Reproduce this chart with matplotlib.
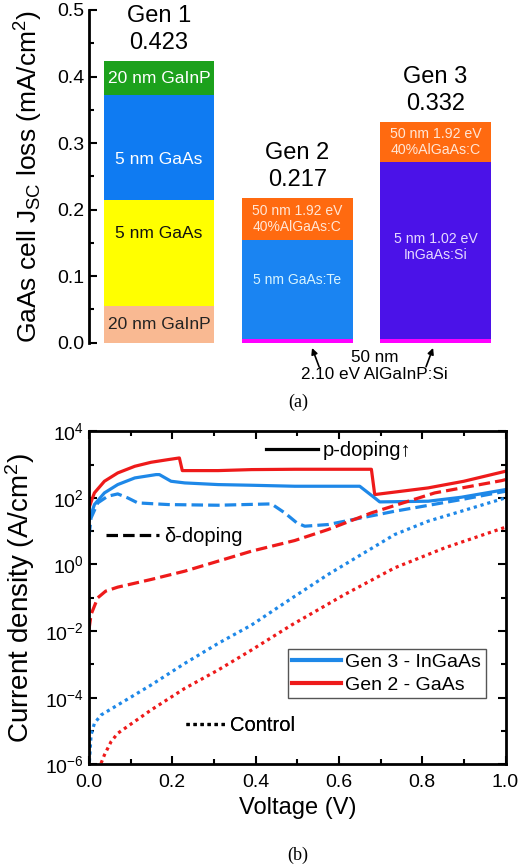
import numpy as np
import matplotlib
matplotlib.use('Agg')
import matplotlib.pyplot as plt
from matplotlib.lines import Line2D
from matplotlib.ticker import FixedLocator, NullFormatter, FormatStrFormatter

plt.rcParams['font.family'] = ['Liberation Sans', 'DejaVu Sans']
plt.rcParams['mathtext.default'] = 'regular'

# ---- (a) stacked bars: Jsc loss per layer ----
gen_names = ['Gen 1', 'Gen 2', 'Gen 3']
gen_totals = [0.423, 0.217, 0.332]

gen1_heights = [0.055, 0.160, 0.157, 0.051]
gen1_labels = ['20 nm GaInP', '5 nm GaAs', '5 nm GaAs', '20 nm GaInP']
gen1_colors = ['#F9B992', '#FFFF00', '#0F7BF2', '#1CA11C']
gen1_text = ['#222222', '#111111', 'white', 'white']

gen2_heights = [0.005, 0.150, 0.062]
gen2_labels = ['', '5 nm GaAs:Te', '50 nm 1.92 eV\n40%AlGaAs:C']
gen2_colors = ['#FF00FF', '#1A84F2', '#FF6A10']
gen2_text = ['white', '#D8F4FF', '#FFE6D6']

gen3_heights = [0.005, 0.266, 0.061]
gen3_labels = ['', '5 nm 1.02 eV\nInGaAs:Si', '50 nm 1.92 eV\n40%AlGaAs:C']
gen3_colors = ['#FF00FF', '#4B12E8', '#FF6A10']
gen3_text = ['white', '#E6DAFF', '#FFE6D6']

# where each label sits inside its layer (fraction of the layer height)
gen1_anchor = [0.5, 0.68, 0.38, 0.5]
gen2_anchor = [0.5, 0.59, 0.5]
gen3_anchor = [0.5, 0.52, 0.5]

# ---- (b) J-V curves, voltage (V) and log10 of current density (A/cm2) ----
v_gen2_p = [0, 0.007, 0.013, 0.037, 0.069, 0.11, 0.149, 0.19, 0.217, 0.224, 0.31, 0.39,
            0.494, 0.6, 0.678, 0.686, 0.75, 0.814, 0.9, 1.0]
lj_gen2_p = [1.7, 1.95, 2.15, 2.5, 2.75, 2.95, 3.07, 3.15, 3.2, 2.82, 2.82, 2.85,
             2.86, 2.86, 2.86, 2.1, 2.2, 2.3, 2.5, 2.8]

v_gen3_p = [0, 0.005, 0.013, 0.037, 0.069, 0.11, 0.161, 0.169, 0.197, 0.23, 0.31, 0.39,
            0.494, 0.65, 0.686, 0.698, 0.814, 0.894, 1.0]
lj_gen3_p = [1.3, 1.5, 1.8, 2.15, 2.4, 2.6, 2.7, 2.7, 2.5, 2.45, 2.4, 2.38,
             2.35, 2.35, 2.0, 1.88, 1.9, 2.02, 2.25]

v_gen3_d = [0, 0.005, 0.021, 0.045, 0.069, 0.093, 0.117, 0.19, 0.31, 0.438, 0.47, 0.499,
            0.518, 0.574, 0.734, 0.894, 1.0]
lj_gen3_d = [0.85, 1.4, 1.85, 2.05, 2.12, 2.0, 1.85, 1.8, 1.78, 1.82, 1.55, 1.25,
             1.15, 1.2, 1.6, 1.95, 2.2]

v_gen2_d = [0, 0.005, 0.021, 0.04, 0.069, 0.149, 0.23, 0.31, 0.39, 0.494, 0.574, 0.678,
            0.83, 0.991, 1.0]
lj_gen2_d = [-1.95, -1.5, -1.0, -0.8, -0.68, -0.45, -0.2, 0.1, 0.4, 0.72, 1.05, 1.55,
             2.15, 2.52, 2.55]

v_gen3_c = [0.001, 0.005, 0.013, 0.029, 0.069, 0.149, 0.23, 0.31, 0.39, 0.486, 0.574,
            0.654, 0.734, 0.814, 0.894, 1.0]
lj_gen3_c = [-5.92, -5.12, -4.77, -4.52, -4.22, -3.62, -2.97, -2.37, -1.82, -1.02, -0.3,
             0.3, 0.9, 1.3, 1.6, 2.0]

v_gen2_c = [0.029, 0.037, 0.053, 0.069, 0.109, 0.149, 0.23, 0.31, 0.39, 0.486, 0.614,
            0.734, 0.854, 1.0]
lj_gen2_c = [-5.97, -5.72, -5.32, -5.07, -4.72, -4.37, -3.72, -3.17, -2.57, -1.82, -0.9,
             -0.1, 0.5, 1.12]

RED = '#EE1A1A'
BLUE = '#1E88E8'
DASH = (0, (3.6, 1.6))
DOT = (0, (1, 1.2))

fig = plt.figure(figsize=(5.31, 8.68), dpi=100)
ax1 = fig.add_axes([0.1676, 0.6052, 0.7844, 0.3833])
ax2 = fig.add_axes([0.1676, 0.1195, 0.7844, 0.3836])

# ---------- panel (a) ----------
pos = np.arange(len(gen_names))
stacks = [(gen1_heights, gen1_labels, gen1_colors, gen1_text, gen1_anchor, 12.5),
          (gen2_heights, gen2_labels, gen2_colors, gen2_text, gen2_anchor, 10),
          (gen3_heights, gen3_labels, gen3_colors, gen3_text, gen3_anchor, 10.2)]
for i, (hs, labs, cols, tcols, anc, fs) in enumerate(stacks):
    bottoms = np.concatenate([[0], np.cumsum(hs)[:-1]])
    ax1.bar([pos[i]] * len(hs), hs, bottom=bottoms, width=0.8, color=cols, linewidth=0)
    for h, b, lab, tc, a in zip(hs, bottoms, labs, tcols, anc):
        if lab:
            ax1.text(pos[i], b + h * a, lab, ha='center', va='center', color=tc,
                     fontsize=fs, linespacing=1.15)
    ax1.annotate(f'{gen_names[i]}\n{gen_totals[i]:.3f}', xy=(pos[i], gen_totals[i]),
                 xytext=(0, 5), textcoords='offset points', ha='center', va='bottom',
                 fontsize=17, linespacing=1.3)

ax1.text(1.56, -0.011, '50 nm\n2.10 eV AlGaInP:Si', ha='center', va='top', fontsize=12.3,
         linespacing=1.2)
for i in (1, 2):
    ax1.annotate('', xy=(pos[i] + (0.1 if i == 1 else -0.01), -0.004),
                 xytext=(pos[i] + (0.165 if i == 1 else -0.075), -0.04),
                 arrowprops=dict(arrowstyle='-|>', color='black', lw=1.2, mutation_scale=9),
                 annotation_clip=False)

ax1.set_xlim(-0.507, 2.507)
ax1.set_ylim(0, 0.5)
for s in ('top', 'right', 'bottom'):
    ax1.spines[s].set_visible(False)
ax1.spines['left'].set_linewidth(2)
ax1.set_xticks([])
ax1.set_yticks(np.arange(0, 0.51, 0.1))
ax1.yaxis.set_minor_locator(FixedLocator(np.arange(0.05, 0.5, 0.1)))
ax1.yaxis.set_major_formatter(FormatStrFormatter('%.1f'))
ax1.tick_params(axis='y', which='both', direction='in', width=1.5, labelsize=14)
ax1.tick_params(axis='y', which='major', length=6)
ax1.tick_params(axis='y', which='minor', length=3.5)
ax1.set_ylabel('GaAs cell J$_{SC}$ loss (mA/cm$^2$)', fontsize=19)
ax1.yaxis.set_label_coords(-0.105, 0.5)

# ---------- panel (b) ----------
curves = [(v_gen2_p, lj_gen2_p, RED, '-'), (v_gen3_p, lj_gen3_p, BLUE, '-'),
          (v_gen3_d, lj_gen3_d, BLUE, DASH), (v_gen2_d, lj_gen2_d, RED, DASH),
          (v_gen3_c, lj_gen3_c, BLUE, DOT), (v_gen2_c, lj_gen2_c, RED, DOT)]
for v, lj, c, ls in curves:
    ax2.plot(v, 10 ** np.array(lj), color=c, ls=ls, lw=2.3)

ax2.set_yscale('log')
ax2.set_xlim(0, 1)
ax2.set_ylim(1e-6, 1e4)
ax2.set_xticks(np.arange(0, 1.01, 0.2))
ax2.xaxis.set_minor_locator(FixedLocator(np.arange(0.1, 1.0, 0.2)))
ax2.xaxis.set_major_formatter(FormatStrFormatter('%.1f'))
ax2.yaxis.set_major_locator(FixedLocator(10.0 ** np.arange(-6, 5, 2)))
ax2.yaxis.set_minor_locator(FixedLocator(10.0 ** np.arange(-5, 4, 2)))
ax2.yaxis.set_minor_formatter(NullFormatter())
ax2.tick_params(which='both', direction='in', top=True, right=True, width=1.5, labelsize=14)
ax2.tick_params(axis='x', pad=7)
ax2.tick_params(which='major', length=6)
ax2.tick_params(which='minor', length=3.5)
for s in ax2.spines.values():
    s.set_linewidth(2)
ax2.set_xlabel('Voltage (V)', fontsize=17, labelpad=4)
ax2.set_ylabel('Current density (A/cm$^2$)', fontsize=20)
ax2.yaxis.set_label_coords(-0.125, 0.5)

handles = [Line2D([], [], color=BLUE, lw=3), Line2D([], [], color=RED, lw=3)]
leg = ax2.legend(handles, ['Gen 3 - InGaAs', 'Gen 2 - GaAs'], loc='lower left',
                 bbox_to_anchor=(0.477, 0.199), borderaxespad=0, borderpad=0.22,
                 handlelength=2.5, handletextpad=0.25, labelspacing=0.25, fontsize=14,
                 fancybox=False, edgecolor='#555555', framealpha=1)
leg.get_frame().set_linewidth(1)
ax2.add_artist(leg)

style_names = ['p-doping\u2191', '\u03b4-doping', 'Control']
style_ls = ['-', DASH, DOT]
key_spots = [(0.426, 0.942, 2.55), (0.041, 0.685, 2.65), (0.234, 0.116, 1.9)]
for name, ls, (kx, ky, hl) in zip(style_names, style_ls, key_spots):
    kl = ax2.legend([Line2D([], [], color='black', ls=ls, lw=2.3)], [name], loc='center left',
                    bbox_to_anchor=(kx, ky), borderaxespad=0, borderpad=0, frameon=False,
                    handlelength=hl, handletextpad=0.25, fontsize=14.5)
    ax2.add_artist(kl)

fig.text(0.561, 0.536, '(a)', ha='center', va='center', fontsize=13, family='Liberation Serif')
fig.text(0.561, 0.015, '(b)', ha='center', va='center', fontsize=13, family='Liberation Serif')

fig.savefig('out.png', dpi=100)
